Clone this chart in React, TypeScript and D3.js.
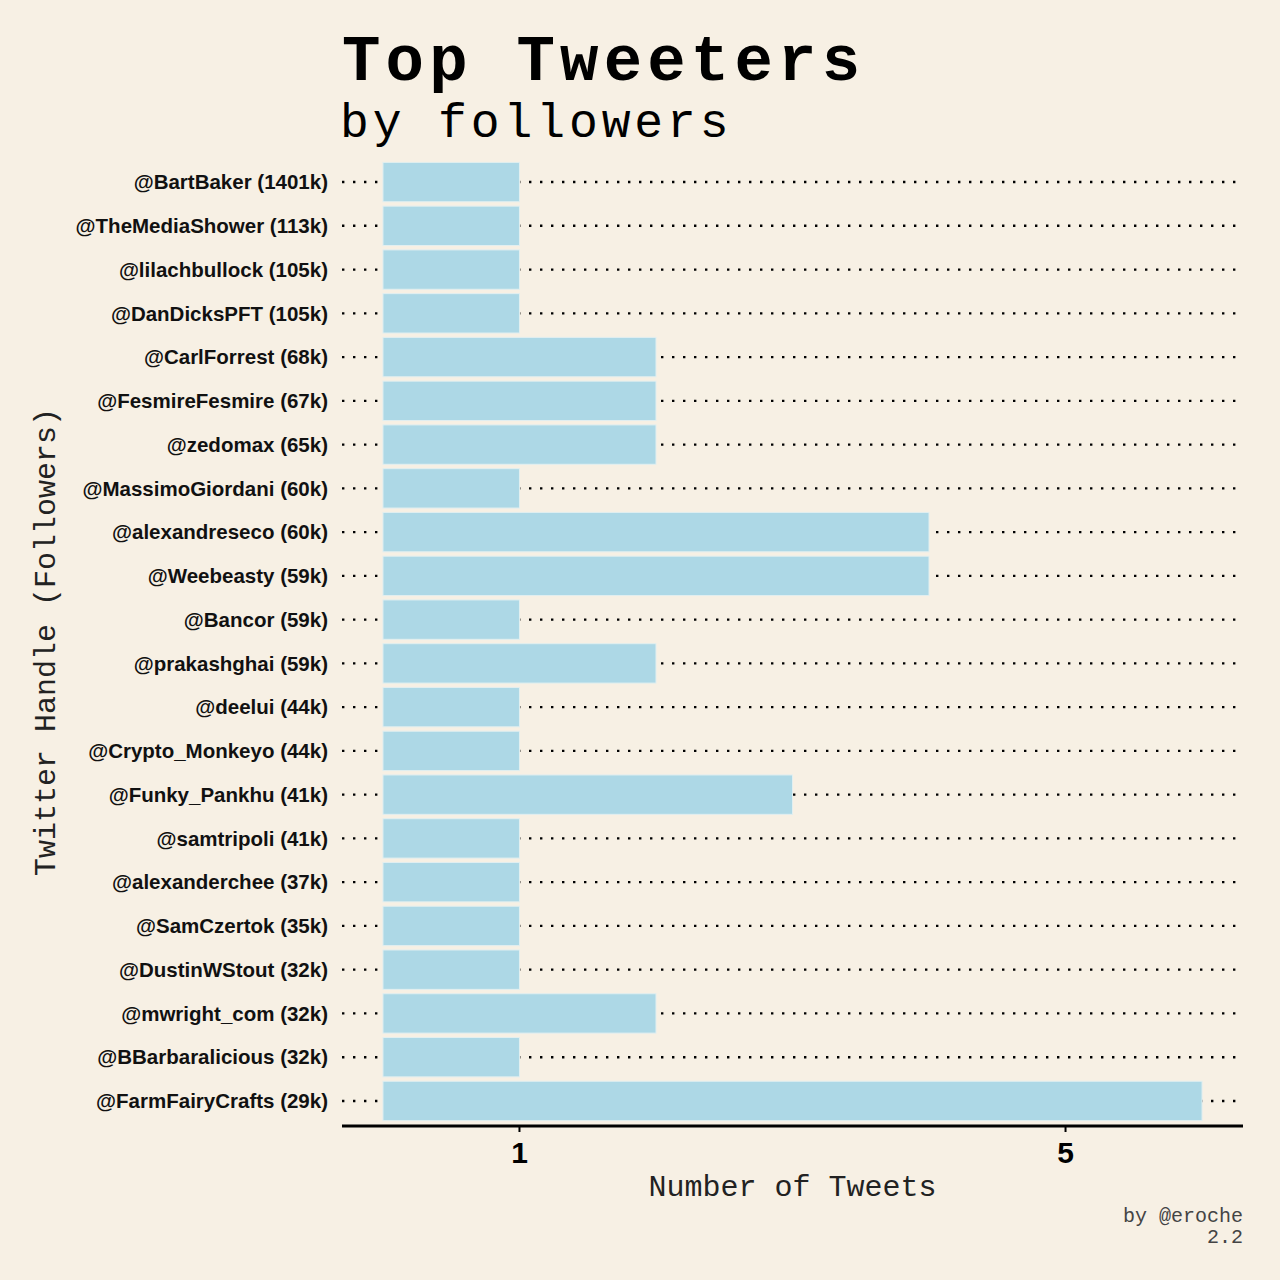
import React from "react";
import * as d3 from "d3";

const handles = [
  "@BartBaker (1401k)",
  "@TheMediaShower (113k)",
  "@lilachbullock (105k)",
  "@DanDicksPFT (105k)",
  "@CarlForrest (68k)",
  "@FesmireFesmire (67k)",
  "@zedomax (65k)",
  "@MassimoGiordani (60k)",
  "@alexandreseco (60k)",
  "@Weebeasty (59k)",
  "@Bancor (59k)",
  "@prakashghai (59k)",
  "@deelui (44k)",
  "@Crypto_Monkeyo (44k)",
  "@Funky_Pankhu (41k)",
  "@samtripoli (41k)",
  "@alexanderchee (37k)",
  "@SamCzertok (35k)",
  "@DustinWStout (32k)",
  "@mwright_com (32k)",
  "@BBarbaralicious (32k)",
  "@FarmFairyCrafts (29k)",
];
const tweets = [1, 1, 1, 1, 2, 2, 2, 1, 4, 4, 1, 2, 1, 1, 3, 1, 1, 1, 1, 2, 1, 6];
const xTicks = [1, 5];

const W = 1280;
const H = 1280;
const left = 342;
const right = 1243;
const top = 158;
const bottom = 1125;
const axisY = 1126;

export default function App() {
  const x = d3.scaleLinear().domain([-0.3, 6.3]).range([left, right]);
  const y = d3.scaleBand<string>().domain(handles).range([top, bottom]).padding(0.1);
  const mono = "'Courier New', Courier, 'Liberation Mono', monospace";
  const sans = "Helvetica, 'Liberation Sans', Arial, sans-serif";
  return (
    <svg width={W} height={H} style={{ position: "absolute", left: 0, top: 0, display: "block" }}>
      <rect x={0} y={0} width={W} height={H} fill="#f7f0e4" />
      <text x={342} y={80} fontFamily={mono} fontWeight="bold" fontSize={64} letterSpacing={5.2} fill="#000">
        Top Tweeters
      </text>
      <text x={340} y={137} fontFamily={mono} fontSize={48} letterSpacing={3.9} fill="#000">
        by followers
      </text>
      {handles.map((h) => {
        const cy = (y(h) as number) + y.bandwidth() / 2;
        return (
          <g key={h}>
            <line
              x1={left}
              x2={right}
              y1={cy}
              y2={cy}
              stroke="#000"
              strokeWidth={2.4}
              strokeDasharray="2.4,8.6"
            />
            <text
              x={328}
              y={cy}
              dy="0.35em"
              textAnchor="end"
              fontFamily={sans}
              fontWeight="bold"
              fontSize={20.5}
              fill="#111"
            >
              {h}
            </text>
          </g>
        );
      })}
      {handles.map((h, i) => (
        <rect
          key={"b" + h}
          x={x(0)}
          y={y(h) as number}
          width={x(tweets[i]) - x(0)}
          height={y.bandwidth()}
          fill="#add8e6"
          stroke="#e2eff0"
          strokeWidth={1}
        />
      ))}
      <line x1={left} x2={right} y1={axisY} y2={axisY} stroke="#000" strokeWidth={3} />
      {xTicks.map((t) => (
        <g key={t}>
          <line x1={x(t)} x2={x(t)} y1={axisY} y2={axisY + 6} stroke="#000" strokeWidth={2} />
          <text
            x={x(t)}
            y={1163}
            textAnchor="middle"
            fontFamily={sans}
            fontWeight="bold"
            fontSize={30}
            fill="#000"
          >
            {t}
          </text>
        </g>
      ))}
      <text x={(left + right) / 2} y={1196} textAnchor="middle" fontFamily={mono} fontSize={30} fill="#222">
        Number of Tweets
      </text>
      <text
        transform={`translate(55, ${(top + axisY) / 2}) rotate(-90)`}
        textAnchor="middle"
        fontFamily={mono}
        fontSize={30}
        fill="#222"
      >
        Twitter Handle (Followers)
      </text>
      <text x={1243} y={1222} textAnchor="end" fontFamily={mono} fontSize={20} fill="#444">
        by @eroche
      </text>
      <text x={1243} y={1243} textAnchor="end" fontFamily={mono} fontSize={20} fill="#444">
        2.2
      </text>
    </svg>
  );
}
